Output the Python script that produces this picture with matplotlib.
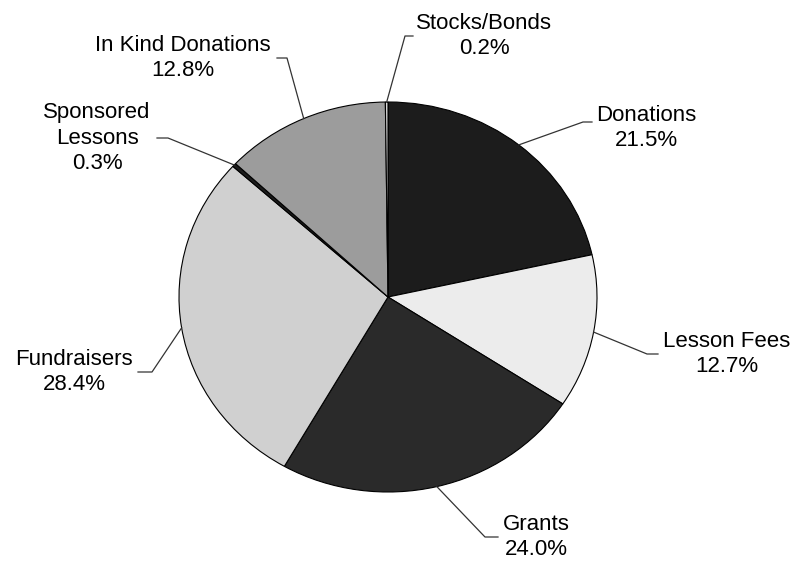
import matplotlib.pyplot as plt
import numpy as np

labels = ["Donations", "Lesson Fees", "Grants", "Fundraisers",
          "Sponsored\nLessons", "In Kind Donations", "Stocks/Bonds"]
shares = [21.5, 12.7, 24.0, 28.4, 0.3, 12.8, 0.2]
fills = ["#1c1c1c", "#ececec", "#2a2a2a", "#d0d0d0", "#1c1c1c", "#9c9c9c", "#d8d8d8"]

# label block centre and leader elbow, in reference pixels
text_px = [(646, 128), (727, 354), (536, 537), (74, 372), (97, 138), (183, 58), (484, 36)]
elbow_px = [(583, 122), (647, 354), (485, 537), (152, 372), (168, 138), (287, 58), (405, 36)]
end_px = [(592, 122), (658, 354), (498, 537), (138, 372), (157, 138), (277, 58), (413, 36)]

W, H = 796, 562
cx, cy, rx, ry = 388, 297, 209, 195


def to_data(p):
    return (p[0] - cx) / rx, (cy - p[1]) / ry


plt.rcParams['font.family'] = ['Liberation Sans', 'DejaVu Sans']
fig = plt.figure(figsize=(W / 100, H / 100), dpi=100)
ax = fig.add_axes([(cx - rx) / W, (H - cy - ry) / H, 2 * rx / W, 2 * ry / H])

wedges, _ = ax.pie(shares, colors=fills, startangle=90, counterclock=False,
                   radius=1, wedgeprops=dict(edgecolor='black', linewidth=0.8))
ax.set_aspect('auto')
ax.set_xlim(-1, 1)
ax.set_ylim(-1, 1)
ax.axis('off')

for w, lab, val, t, e, f in zip(wedges, labels, shares, text_px, elbow_px, end_px):
    mid = np.deg2rad((w.theta1 + w.theta2) / 2)
    sx, sy = np.cos(mid), np.sin(mid)
    ex, ey = to_data(e)
    fx, fy = to_data(f)
    ax.plot([sx, ex, fx], [sy, ey, fy], color='#333333', lw=0.9, clip_on=False)
    tx, ty = to_data(t)
    ax.text(tx, ty, f"{lab}\n{val:.1f}%", ha='center', va='center',
            fontsize=16, linespacing=1.28, color='black')

fig.savefig("out.png", dpi=100)
